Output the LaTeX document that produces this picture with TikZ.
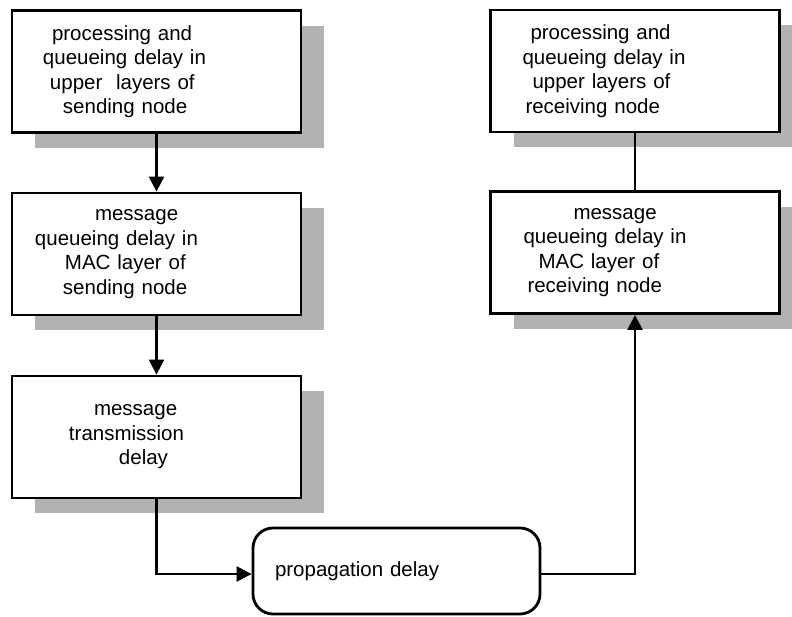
\documentclass[tikz,border=0pt]{standalone}
\usepackage{fontspec}
\setmainfont{Liberation Sans}
\usetikzlibrary{arrows.meta,shadows}
\definecolor{shadowgray}{gray}{0.7}
\tikzset{
  stagebox/.style={draw, line width=2.8pt, fill=white,
    inner xsep=0pt, inner ysep=0pt, text width=289pt,
    minimum height=122pt, align=left,
    font=\fontsize{20.5}{24.5}\selectfont,
    general shadow={fill=shadowgray, shadow xshift=23pt, shadow yshift=-15pt}},
  propbox/.style={draw, line width=2.8pt, rounded corners=20pt,
    inner xsep=22pt, inner ysep=0pt, text width=243pt,
    minimum height=86pt, align=left,
    font=\fontsize{20.5}{24.5}\selectfont},
  conn/.style={line width=2.4pt},
  tip/.style={-{Triangle[length=15pt,width=15pt]}}
}
\begin{document}
\begin{tikzpicture}[x=1pt,y=-1pt]
\useasboundingbox (0,0) rectangle (792,616);

% sending side
\node[stagebox] (b1) at (156.5,71.5)
  {\hspace*{40pt}processing and\\
   \hspace*{31pt}queueing delay in\\
   \hspace*{38pt}upper~ layers of\\
   \hspace*{51pt}sending node};
\node[stagebox] (b2) at (156.5,254)
  {\hspace*{83pt}message\\
   \hspace*{23pt}queueing delay in\\
   \hspace*{53pt}MAC layer of\\
   \hspace*{51pt}sending node};
\node[stagebox] (b3) at (156.5,437)
  {\hspace*{82pt}message\\
   \hspace*{57pt}transmission\\
   \hspace*{107pt}delay};

% receiving side
\node[stagebox] (b4) at (635,71)
  {\hspace*{40pt}processing and\\
   \hspace*{32pt}queueing delay in\\
   \hspace*{42pt}upper layers of\\
   \hspace*{35pt}receiving node};
\node[stagebox] (b5) at (635,252.5)
  {\hspace*{83pt}message\\
   \hspace*{33pt}queueing delay in\\
   \hspace*{48pt}MAC layer of\\
   \hspace*{37pt}receiving node};

% channel
\node[propbox] (prop) at (396.5,571) {propagation delay};

% connectors
\draw[conn,tip] (b1.south) -- (b2.north);
\draw[conn,tip] (b2.south) -- (b3.north);
\draw[conn,tip] (b3.south) |- ([yshift=-3pt]prop.west);
\draw[conn,tip] ([yshift=-3pt]prop.east) -| (b5.south);
\draw[conn] (b4.south) -- (b5.north);
\end{tikzpicture}
\end{document}
